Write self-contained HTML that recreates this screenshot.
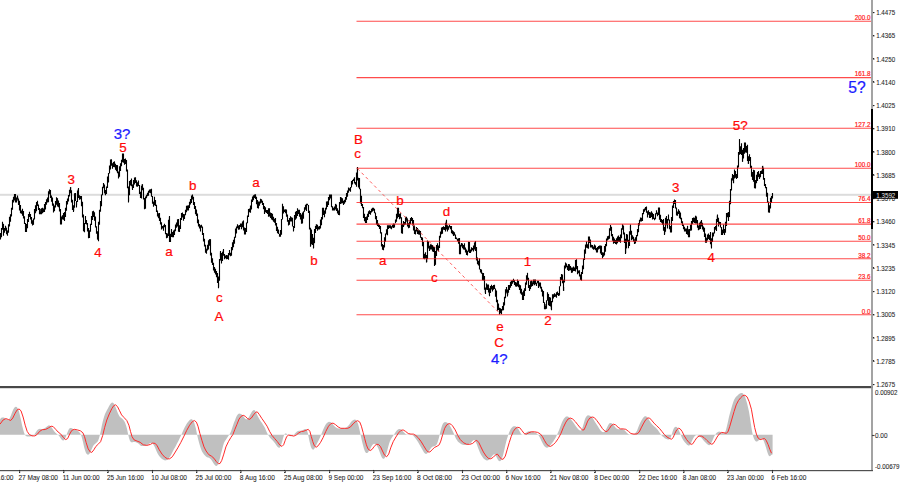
<!DOCTYPE html>
<html><head><meta charset="utf-8"><title>Chart</title>
<style>html,body{margin:0;padding:0;background:#fff;overflow:hidden}body{width:900px;height:485px}</style></head>
<body>
<svg width="900" height="485" viewBox="0 0 900 485" style="display:block;font-family:'Liberation Sans',sans-serif">
<rect width="900" height="485" fill="#fff"/>
<rect x="0" y="193.8" width="871" height="2" fill="#dcdcdc"/>
<path d="M0.5,232.9V239.4M1.5,227.9V237.2M2.5,221.8V229.7M3.5,223.9V235.7M4.5,228.1V232.8M5.5,225.8V230.6M6.5,227.7V234.2M7.5,230.7V235.7M8.5,224.3V232.7M9.5,216.7V226.6M10.5,214.3V221.7M11.5,207.7V216.5M12.5,199.8V209.7M13.5,196.7V202.5M14.5,194.1V200.5M15.5,194.1V202.5M16.5,197.4V202.5M17.5,195.5V199.2M18.5,198.4V204.9M19.5,200.8V210.4M20.5,205.0V213.2M21.5,210.5V213.7M22.5,208.8V215.7M23.5,211.1V218.6M24.5,216.3V224.0M25.5,223.1V231.9M26.5,223.9V231.9M27.5,218.9V228.2M28.5,214.0V222.0M29.5,211.8V216.9M30.5,214.0V219.5M31.5,217.1V223.8M32.5,220.3V225.6M33.5,218.4V224.8M34.5,209.0V219.4M35.5,205.2V213.2M36.5,202.0V211.3M37.5,200.8V206.0M38.5,204.4V209.9M39.5,208.1V214.2M40.5,211.4V214.2M41.5,208.3V214.2M42.5,207.7V213.3M43.5,208.5V212.3M44.5,203.9V212.0M45.5,202.0V209.6M46.5,199.3V204.7M47.5,197.4V202.6M48.5,191.3V202.3M49.5,189.2V193.7M50.5,190.0V198.0M51.5,195.6V201.7M52.5,197.5V205.8M53.5,203.6V212.6M54.5,205.4V211.1M55.5,200.9V207.5M56.5,197.2V204.7M57.5,198.3V206.6M58.5,200.5V207.3M59.5,203.0V211.5M60.5,208.9V224.4M61.5,216.5V224.4M62.5,215.6V219.3M63.5,212.9V219.8M64.5,211.9V221.0M65.5,207.8V217.0M66.5,200.9V210.7M67.5,198.5V204.4M68.5,194.9V201.4M69.5,189.7V196.6M70.5,187.2V193.3M71.5,190.2V202.5M72.5,199.7V210.1M73.5,205.2V212.0M74.5,193.2V207.8M75.5,192.9V201.0M76.5,201.3V207.4M77.5,190.6V201.9M78.5,188.0V197.9M79.5,195.2V199.7M80.5,195.9V199.3M81.5,196.1V206.3M82.5,201.7V217.6M83.5,214.6V231.2M84.5,223.1V232.3M85.5,216.0V223.9M86.5,219.9V224.6M87.5,222.9V231.6M88.5,228.0V238.3M89.5,230.2V238.0M90.5,223.7V231.8M91.5,216.0V225.1M92.5,211.3V219.9M93.5,210.7V216.9M94.5,212.3V220.7M95.5,216.5V227.6M96.5,226.2V233.7M97.5,231.2V239.6M98.5,221.8V241.2M99.5,209.7V224.7M100.5,201.1V211.7M101.5,194.4V206.2M102.5,186.8V195.2M103.5,183.0V187.6M104.5,184.5V193.3M105.5,189.9V195.3M106.5,186.4V194.0M107.5,176.5V188.1M108.5,173.1V182.6M109.5,165.5V173.4M110.5,159.6V169.4M111.5,159.4V165.8M112.5,163.6V168.8M113.5,161.9V166.9M114.5,161.6V167.2M115.5,163.7V169.7M116.5,164.9V171.3M117.5,165.2V173.3M118.5,171.5V178.6M119.5,166.3V176.8M120.5,163.2V171.1M121.5,159.7V166.2M122.5,153.6V162.3M123.5,153.5V162.8M124.5,159.0V164.7M125.5,158.5V164.1M126.5,160.1V171.4M127.5,169.6V188.2M128.5,186.6V202.4M129.5,181.1V195.3M130.5,180.0V185.5M131.5,178.5V186.2M132.5,184.5V190.0M133.5,180.0V187.9M134.5,177.5V184.6M135.5,177.2V183.1M136.5,180.2V186.4M137.5,182.3V186.7M138.5,180.4V186.0M139.5,185.1V194.0M140.5,191.8V197.9M141.5,185.7V198.4M142.5,184.3V190.3M143.5,187.7V199.6M144.5,198.1V209.2M145.5,196.6V208.8M146.5,194.8V198.2M147.5,192.8V196.2M148.5,190.8V195.7M149.5,189.4V192.8M150.5,189.3V193.2M151.5,188.7V196.7M152.5,196.0V203.7M153.5,201.7V206.8M154.5,196.7V205.2M155.5,200.0V206.0M156.5,204.7V212.0M157.5,210.4V216.4M158.5,213.2V218.2M159.5,212.9V221.0M160.5,217.8V224.5M161.5,222.2V229.6M162.5,226.0V228.4M163.5,225.2V230.8M164.5,223.8V227.3M165.5,225.1V234.2M166.5,232.9V238.2M167.5,233.6V237.7M168.5,219.7V236.0M169.5,215.9V241.9M170.5,233.8V242.1M171.5,228.9V237.1M172.5,231.9V237.3M173.5,230.4V237.2M174.5,229.5V234.9M175.5,224.5V231.2M176.5,222.5V227.8M177.5,219.3V226.6M178.5,218.9V231.8M179.5,225.3V231.9M180.5,218.0V229.0M181.5,213.1V220.0M182.5,212.5V217.1M183.5,214.1V220.8M184.5,214.2V219.0M185.5,209.8V215.3M186.5,205.8V212.3M187.5,205.4V210.5M188.5,205.3V210.4M189.5,201.7V208.0M190.5,199.0V204.4M191.5,195.4V203.0M192.5,194.4V199.0M193.5,196.8V204.9M194.5,201.9V208.9M195.5,206.1V214.2M196.5,209.4V216.0M197.5,213.6V223.2M198.5,219.6V226.4M199.5,224.1V228.5M200.5,225.2V231.5M201.5,224.7V227.7M202.5,226.5V235.1M203.5,233.1V241.4M204.5,238.8V246.5M205.5,244.8V252.8M206.5,249.2V253.8M207.5,244.7V250.6M208.5,240.2V249.6M209.5,239.3V245.7M210.5,239.3V255.6M211.5,252.8V262.8M212.5,258.2V264.9M213.5,262.7V270.4M214.5,267.1V272.7M215.5,268.8V274.4M216.5,271.1V277.2M217.5,272.9V283.1M218.5,276.5V288.2M219.5,258.9V280.8M220.5,251.1V260.5M221.5,253.0V263.4M222.5,251.7V261.0M223.5,249.1V255.7M224.5,253.9V259.3M225.5,255.5V258.3M226.5,255.0V259.2M227.5,255.3V259.1M228.5,252.9V259.8M229.5,250.0V255.3M230.5,252.7V256.2M231.5,247.1V255.7M232.5,242.2V250.2M233.5,239.8V247.2M234.5,236.7V243.8M235.5,228.6V237.7M236.5,226.6V233.5M237.5,224.2V228.2M238.5,225.5V229.7M239.5,224.9V229.6M240.5,223.4V227.0M241.5,223.6V229.3M242.5,221.5V227.2M243.5,220.4V230.5M244.5,227.4V234.5M245.5,227.9V234.5M246.5,222.4V232.0M247.5,215.6V223.3M248.5,208.9V217.1M249.5,208.5V212.2M250.5,205.5V212.7M251.5,199.4V209.5M252.5,196.4V202.1M253.5,195.2V200.2M254.5,194.5V197.9M255.5,194.2V198.9M256.5,196.8V204.3M257.5,200.1V208.0M258.5,201.5V208.6M259.5,201.5V205.7M260.5,198.8V203.4M261.5,199.3V202.8M262.5,200.8V205.1M263.5,203.0V209.3M264.5,206.1V214.0M265.5,207.2V212.2M266.5,210.1V213.1M267.5,209.9V213.9M268.5,208.3V216.8M269.5,208.3V216.6M270.5,212.5V218.1M271.5,212.9V219.5M272.5,213.7V220.3M273.5,216.8V221.8M274.5,218.7V222.8M275.5,218.1V225.6M276.5,223.0V230.9M277.5,226.7V233.3M278.5,229.4V234.1M279.5,233.7V236.8M280.5,229.9V236.8M281.5,219.1V234.7M282.5,203.8V219.5M283.5,206.3V213.4M284.5,209.4V212.0M285.5,209.2V213.2M286.5,209.6V216.7M287.5,214.6V221.7M288.5,220.1V225.4M289.5,217.9V224.7M290.5,216.2V221.5M291.5,217.2V221.5M292.5,217.7V226.4M293.5,226.0V231.5M294.5,215.1V228.0M295.5,211.7V219.7M296.5,211.1V218.5M297.5,208.3V215.9M298.5,209.8V214.0M299.5,209.7V216.7M300.5,213.1V219.5M301.5,214.4V223.8M302.5,212.4V223.4M303.5,211.3V218.7M304.5,207.2V211.8M305.5,204.7V209.8M306.5,203.7V211.1M307.5,203.7V205.3M308.5,204.9V213.1M309.5,210.7V229.5M310.5,227.8V246.8M311.5,229.6V244.2M312.5,234.0V245.0M313.5,237.8V248.4M314.5,229.0V243.2M315.5,226.0V232.9M316.5,224.5V229.0M317.5,224.8V230.8M318.5,226.6V229.5M319.5,226.0V229.4M320.5,219.6V228.4M321.5,217.1V225.2M322.5,207.7V219.6M323.5,207.7V215.1M324.5,210.5V217.3M325.5,207.7V213.8M326.5,201.6V209.5M327.5,201.3V207.0M328.5,197.1V205.0M329.5,194.6V200.2M330.5,194.6V198.5M331.5,194.6V207.2M332.5,206.3V210.6M333.5,207.8V210.6M334.5,206.5V210.6M335.5,204.1V209.5M336.5,204.8V211.1M337.5,208.3V213.6M338.5,210.8V215.1M339.5,201.9V215.2M340.5,196.9V203.9M341.5,197.6V203.4M342.5,198.2V203.3M343.5,200.8V205.0M344.5,199.8V203.8M345.5,196.9V202.3M346.5,193.1V199.7M347.5,190.4V196.7M348.5,187.4V192.7M349.5,188.2V190.8M350.5,186.9V191.7M351.5,181.0V187.6M352.5,180.0V184.5M353.5,178.8V181.1M354.5,177.3V183.6M355.5,182.0V184.8M356.5,172.6V186.8M357.5,167.0V180.6M358.5,177.7V187.5M359.5,178.0V189.3M360.5,188.8V203.5M361.5,195.8V205.9M362.5,203.9V208.2M363.5,207.1V218.1M364.5,213.7V221.3M365.5,217.1V223.1M366.5,216.5V223.1M367.5,213.8V219.9M368.5,211.2V217.1M369.5,210.3V213.9M370.5,211.1V214.7M371.5,208.8V212.4M372.5,207.8V211.6M373.5,207.8V210.7M374.5,208.8V213.2M375.5,212.6V219.3M376.5,216.1V224.4M377.5,219.9V225.9M378.5,223.4V227.0M379.5,225.1V229.1M380.5,226.0V233.6M381.5,232.2V246.6M382.5,243.9V249.7M383.5,245.1V250.3M384.5,237.2V247.6M385.5,233.5V241.7M386.5,229.3V234.4M387.5,225.2V235.2M388.5,225.2V229.0M389.5,225.2V227.9M390.5,225.2V228.4M391.5,226.2V229.3M392.5,224.7V227.6M393.5,223.5V227.9M394.5,223.8V227.6M395.5,219.4V223.3M396.5,213.8V221.7M397.5,207.8V218.5M398.5,207.8V216.9M399.5,213.8V219.3M400.5,213.3V218.5M401.5,217.3V233.3M402.5,224.1V233.7M403.5,221.0V227.1M404.5,222.0V225.2M405.5,216.7V224.4M406.5,216.7V220.6M407.5,218.5V226.4M408.5,223.6V228.2M409.5,220.5V227.8M410.5,218.1V223.9M411.5,217.0V220.9M412.5,218.1V225.6M413.5,220.1V230.5M414.5,225.6V233.9M415.5,229.7V234.6M416.5,226.9V231.6M417.5,228.1V234.0M418.5,229.5V234.6M419.5,230.2V234.7M420.5,231.0V237.7M421.5,237.0V240.1M422.5,237.4V246.2M423.5,242.1V258.8M424.5,254.0V259.2M425.5,252.2V258.6M426.5,255.1V262.5M427.5,240.6V259.1M428.5,241.3V248.6M429.5,246.0V250.9M430.5,244.3V249.5M431.5,244.5V249.6M432.5,244.9V251.5M433.5,246.6V252.0M434.5,247.0V266.1M435.5,250.9V264.8M436.5,245.1V256.1M437.5,243.2V250.6M438.5,245.6V251.6M439.5,235.8V248.1M440.5,231.6V237.8M441.5,227.6V234.3M442.5,227.0V233.7M443.5,226.2V229.8M444.5,227.0V229.9M445.5,222.7V231.6M446.5,219.7V229.6M447.5,225.2V231.6M448.5,226.3V229.8M449.5,224.8V227.4M450.5,225.9V229.2M451.5,226.0V233.2M452.5,230.3V234.3M453.5,231.2V236.0M454.5,232.2V235.6M455.5,234.5V239.0M456.5,237.4V239.2M457.5,238.7V241.2M458.5,238.2V243.7M459.5,238.1V254.2M460.5,244.7V254.3M461.5,243.0V246.5M462.5,243.5V248.2M463.5,245.1V249.6M464.5,243.3V249.8M465.5,247.5V252.4M466.5,249.5V255.0M467.5,250.7V255.4M468.5,241.7V251.8M469.5,241.9V253.0M470.5,249.4V253.1M471.5,247.3V251.4M472.5,247.9V250.2M473.5,245.6V251.5M474.5,242.4V249.5M475.5,240.9V251.0M476.5,246.9V260.5M477.5,257.4V264.2M478.5,260.8V265.4M479.5,258.3V269.6M480.5,269.0V272.6M481.5,269.6V273.8M482.5,272.7V280.3M483.5,273.1V280.6M484.5,276.1V289.8M485.5,287.4V294.0M486.5,283.5V289.7M487.5,284.5V290.0M488.5,284.5V292.4M489.5,288.3V296.2M490.5,285.9V293.0M491.5,284.8V289.6M492.5,285.9V291.6M493.5,285.1V289.8M494.5,284.8V289.1M495.5,288.5V296.7M496.5,290.6V302.3M497.5,299.7V310.7M498.5,303.5V309.9M499.5,307.7V314.4M500.5,308.2V313.3M501.5,309.1V314.3M502.5,305.9V310.5M503.5,302.3V310.2M504.5,296.8V305.5M505.5,289.2V298.2M506.5,286.9V292.1M507.5,289.6V296.4M508.5,284.9V292.8M509.5,285.0V290.0M510.5,281.8V287.7M511.5,280.6V286.0M512.5,280.3V283.7M513.5,278.7V282.2M514.5,279.9V285.1M515.5,282.0V286.5M516.5,282.6V286.7M517.5,279.6V286.3M518.5,281.1V287.3M519.5,284.5V290.1M520.5,285.2V293.5M521.5,288.7V294.8M522.5,292.2V300.1M523.5,290.5V300.1M524.5,288.3V296.0M525.5,282.6V291.0M526.5,275.3V284.7M527.5,272.9V280.4M528.5,277.7V288.1M529.5,285.1V291.0M530.5,281.3V289.0M531.5,280.5V286.8M532.5,282.7V285.9M533.5,279.6V284.3M534.5,279.6V285.2M535.5,279.6V284.2M536.5,282.7V286.1M537.5,280.7V283.3M538.5,280.7V287.9M539.5,282.5V286.6M540.5,282.5V288.4M541.5,286.7V291.7M542.5,289.4V296.5M543.5,290.9V303.1M544.5,302.2V309.2M545.5,305.7V309.2M546.5,300.3V308.7M547.5,292.3V300.8M548.5,294.0V305.2M549.5,296.9V305.9M550.5,297.6V306.5M551.5,300.9V310.3M552.5,294.3V302.3M553.5,294.3V298.5M554.5,293.3V297.0M555.5,294.3V296.7M556.5,292.2V297.8M557.5,291.5V295.1M558.5,292.9V295.9M559.5,286.2V295.6M560.5,276.9V286.2M561.5,273.9V279.9M562.5,274.4V283.2M563.5,279.7V290.7M564.5,265.4V282.4M565.5,262.6V268.4M566.5,263.6V267.3M567.5,265.8V270.0M568.5,263.9V271.1M569.5,264.3V270.5M570.5,266.0V270.3M571.5,267.4V272.7M572.5,267.5V272.4M573.5,266.5V271.0M574.5,267.5V271.1M575.5,259.9V271.6M576.5,259.2V269.2M577.5,266.0V274.3M578.5,270.5V273.2M579.5,270.3V276.6M580.5,274.6V279.8M581.5,271.9V280.8M582.5,265.5V274.1M583.5,258.5V269.3M584.5,249.4V260.0M585.5,244.4V253.7M586.5,241.5V247.7M587.5,244.3V248.2M588.5,236.6V248.7M589.5,236.5V243.0M590.5,239.6V247.6M591.5,244.7V247.6M592.5,245.0V248.7M593.5,246.4V249.7M594.5,244.4V249.3M595.5,245.5V250.2M596.5,248.0V252.5M597.5,247.0V252.5M598.5,245.9V249.5M599.5,245.5V248.8M600.5,245.5V253.5M601.5,245.7V254.9M602.5,252.3V258.3M603.5,252.4V256.7M604.5,246.0V255.4M605.5,244.0V251.7M606.5,238.5V246.2M607.5,236.3V240.6M608.5,235.8V239.5M609.5,228.3V238.8M610.5,225.1V230.8M611.5,226.7V236.3M612.5,234.0V240.8M613.5,236.7V243.8M614.5,238.6V243.0M615.5,240.0V244.1M616.5,238.2V244.5M617.5,236.4V243.3M618.5,235.6V241.7M619.5,236.9V242.0M620.5,234.6V242.8M621.5,228.2V238.2M622.5,224.2V229.8M623.5,225.6V234.5M624.5,232.5V242.9M625.5,238.8V254.1M626.5,234.1V248.4M627.5,234.4V241.7M628.5,239.8V248.2M629.5,231.2V246.1M630.5,224.6V234.7M631.5,230.7V240.2M632.5,235.2V239.2M633.5,236.7V241.4M634.5,240.6V244.0M635.5,237.3V243.5M636.5,234.9V241.0M637.5,229.1V236.3M638.5,223.0V232.3M639.5,219.8V225.5M640.5,217.4V221.5M641.5,217.8V221.6M642.5,213.1V221.0M643.5,209.3V214.3M644.5,208.6V211.8M645.5,207.0V210.2M646.5,206.4V212.7M647.5,211.3V217.4M648.5,210.2V214.7M649.5,212.0V217.9M650.5,212.5V217.9M651.5,211.3V216.9M652.5,212.7V219.6M653.5,214.1V219.1M654.5,217.8V220.2M655.5,213.3V219.2M656.5,210.2V214.3M657.5,212.4V216.2M658.5,207.6V215.0M659.5,207.6V219.7M660.5,214.8V221.9M661.5,219.1V222.8M662.5,220.1V224.7M663.5,219.1V230.8M664.5,226.9V234.9M665.5,217.8V231.8M666.5,216.0V224.5M667.5,219.1V228.6M668.5,214.4V220.6M669.5,219.4V229.3M670.5,225.9V232.5M671.5,217.0V232.6M672.5,205.5V221.0M673.5,201.1V207.9M674.5,199.6V204.0M675.5,200.1V208.4M676.5,207.5V215.4M677.5,211.6V215.8M678.5,209.3V214.0M679.5,210.7V218.2M680.5,212.4V219.2M681.5,217.8V223.2M682.5,221.3V226.1M683.5,224.4V229.3M684.5,226.7V231.5M685.5,228.6V231.5M686.5,228.4V234.0M687.5,226.1V234.7M688.5,229.2V237.2M689.5,229.1V237.2M690.5,224.7V230.8M691.5,221.1V230.6M692.5,218.1V224.0M693.5,217.6V222.3M694.5,217.7V223.1M695.5,215.9V223.4M696.5,216.6V223.5M697.5,220.1V227.7M698.5,225.4V230.0M699.5,222.8V229.6M700.5,221.4V229.0M701.5,220.0V226.6M702.5,222.8V229.5M703.5,226.6V231.8M704.5,227.8V237.0M705.5,233.4V242.8M706.5,238.3V242.7M707.5,234.6V240.6M708.5,233.6V239.1M709.5,235.0V240.1M710.5,232.1V244.3M711.5,238.3V248.5M712.5,232.4V242.0M713.5,232.5V236.6M714.5,227.1V233.5M715.5,226.1V229.8M716.5,219.0V231.1M717.5,214.4V221.9M718.5,217.7V226.4M719.5,221.8V224.5M720.5,222.0V227.6M721.5,226.9V234.9M722.5,229.8V234.9M723.5,224.5V233.3M724.5,229.1V234.9M725.5,221.7V232.7M726.5,213.0V226.1M727.5,212.7V217.2M728.5,212.1V220.9M729.5,200.7V217.0M730.5,189.0V204.3M731.5,178.2V190.4M732.5,173.9V180.3M733.5,175.1V183.0M734.5,169.6V178.5M735.5,171.0V177.7M736.5,174.0V178.9M737.5,165.4V177.9M738.5,151.9V167.5M739.5,139.3V154.7M740.5,146.3V154.0M741.5,143.2V155.1M742.5,149.7V161.8M743.5,147.9V158.4M744.5,142.4V153.7M745.5,142.5V152.4M746.5,146.1V152.7M747.5,144.7V161.0M748.5,156.2V163.8M749.5,154.2V160.9M750.5,157.1V168.1M751.5,165.7V176.8M752.5,172.0V179.9M753.5,169.8V181.7M754.5,170.2V188.3M755.5,179.9V188.5M756.5,174.7V183.3M757.5,171.9V181.1M758.5,171.0V176.4M759.5,174.2V179.1M760.5,170.9V177.2M761.5,170.5V174.0M762.5,166.1V174.1M763.5,167.8V179.8M764.5,177.9V186.0M765.5,184.1V188.3M766.5,187.1V196.8M767.5,192.8V202.9M768.5,201.4V212.4M769.5,205.2V212.8M770.5,197.7V208.5M771.5,195.9V203.0M772.5,193.0V198.6" fill="none" stroke="#000" stroke-width="1.12"/>
<path d="M2.7,223.0V227.0M4.0,232.0V228.0M5.7,226.6V230.6M7.5,234.5V230.5M14.7,195.3V199.3M15.9,201.7V197.7M17.7,196.7V200.7M26.0,230.7V226.7M29.5,212.6V216.6M33.3,224.4V220.4M40.4,213.0V209.0M49.4,190.4V194.4M54.0,211.4V207.4M57.0,198.0V202.0M60.8,223.2V219.2M62.4,215.3V219.3M64.2,219.8V215.8M70.7,187.0V191.0M73.7,210.8V206.8M74.8,193.8V197.8M76.6,205.0V201.0M78.2,189.2V193.2M83.9,231.2V227.2M88.9,238.0V234.0M93.6,211.4V215.4M98.2,240.0V236.0M103.6,184.2V188.2M105.2,194.4V190.4M111.3,159.3V163.3M112.7,167.2V163.2M114.3,161.5V165.5M115.9,169.5V165.5M117.2,165.0V169.0M118.8,177.4V173.4M123.1,154.7V158.7M128.6,201.2V197.2M131.3,180.8V184.8M132.4,188.8V184.8M141.0,196.7V192.7M142.2,184.2V188.2M144.9,208.0V204.0M153.5,205.8V201.8M155.1,201.2V205.2M169.4,217.1V221.1M170.0,240.9V236.9M178.0,220.5V224.5M179.4,230.7V226.7M182.3,213.7V217.7M183.9,218.2V214.2M192.5,195.6V199.6M206.3,252.6V248.6M210.0,239.0V243.0M218.6,287.0V283.0M220.4,252.6V256.6M221.8,260.5V256.5M223.3,250.3V254.3M243.3,220.8V224.8M244.7,233.3V229.3M258.0,208.3V204.3M282.5,205.0V209.0M288.9,224.2V220.2M293.6,230.3V226.3M301.8,223.0V219.0M310.7,245.7V241.7M312.0,234.4V238.4M313.6,248.0V244.0M316.3,224.2V228.2M323.1,208.3V212.3M324.5,216.2V212.2M335.8,203.8V207.8M339.0,214.0V210.0M357.4,168.2V172.2M366.2,221.9V217.9M382.8,249.1V245.1M398.0,209.0V213.0M402.0,233.2V229.2M406.8,217.9V221.9M408.4,227.0V223.0M423.8,257.6V253.6M425.4,253.1V257.1M426.8,262.2V258.2M427.9,241.7V245.7M429.5,249.7V245.7M431.1,245.1V249.1M434.9,265.1V261.1M446.3,220.9V224.9M460.1,253.1V249.1M468.9,242.9V246.9M475.3,241.7V245.7M485.3,292.8V288.8M486.6,283.7V287.7M489.4,295.0V291.0M506.4,289.4V293.4M507.7,295.0V291.0M517.9,280.8V284.8M522.9,298.9V294.9M527.5,272.8V276.8M529.7,289.8V285.8M531.1,280.8V284.8M532.7,285.3V281.3M545.1,308.0V304.0M547.6,293.2V297.2M551.3,309.1V305.1M561.7,275.1V279.1M563.7,291.0V287.0M571.7,272.8V268.8M576.4,260.4V264.4M580.7,279.6V275.6M589.4,237.7V241.7M610.5,226.3V230.3M618.4,237.1V241.1M620.0,241.6V237.6M622.5,224.6V228.6M625.7,253.0V249.0M626.8,237.1V241.1M630.4,225.8V229.8M634.7,242.8V238.8M650.1,216.7V212.7M659.2,208.8V212.8M664.7,233.7V229.7M665.8,219.0V223.0M667.2,225.8V221.8M668.5,215.6V219.6M671.0,231.4V227.4M687.6,225.8V229.8M688.9,236.0V232.0M695.7,215.6V219.6M698.4,230.3V226.3M706.4,241.6V237.6M710.2,234.8V238.8M711.4,247.3V243.3M717.3,215.6V219.6M722.3,233.7V229.7M728.8,217.3V213.3M732.4,176.5V180.5M733.6,183.3V179.3M734.7,170.8V174.8M739.5,139.1V143.1M740.4,151.5V147.5M741.5,144.7V148.7M742.6,161.7V157.7M744.9,143.6V147.6M746.0,151.5V147.5M747.2,145.9V149.9M748.3,164.0V160.0M749.4,156.1V160.1M752.8,179.9V175.9M754.0,170.8V174.8M755.1,187.8V183.8M758.5,173.1V177.1M759.6,177.6V173.6M762.8,165.8V169.8M769.4,211.6V207.6" fill="none" stroke="#000" stroke-width="0.9"/>
<line x1="356.5" y1="21.3" x2="871" y2="21.3" stroke="#ff1818" stroke-width="1.05" stroke-opacity="0.78"/>
<line x1="356.5" y1="77.6" x2="871" y2="77.6" stroke="#ff1818" stroke-width="1.05" stroke-opacity="0.78"/>
<line x1="356.5" y1="128.3" x2="871" y2="128.3" stroke="#ff1818" stroke-width="1.05" stroke-opacity="0.78"/>
<line x1="356.5" y1="168.3" x2="871" y2="168.3" stroke="#ff1818" stroke-width="1.05" stroke-opacity="0.78"/>
<line x1="356.5" y1="202.4" x2="871" y2="202.4" stroke="#ff1818" stroke-width="1.05" stroke-opacity="0.78"/>
<line x1="356.5" y1="224.1" x2="871" y2="224.1" stroke="#ff1818" stroke-width="1.05" stroke-opacity="0.78"/>
<line x1="356.5" y1="241.2" x2="871" y2="241.2" stroke="#ff1818" stroke-width="1.05" stroke-opacity="0.78"/>
<line x1="356.5" y1="258.8" x2="871" y2="258.8" stroke="#ff1818" stroke-width="1.05" stroke-opacity="0.78"/>
<line x1="356.5" y1="280.3" x2="871" y2="280.3" stroke="#ff1818" stroke-width="1.05" stroke-opacity="0.78"/>
<line x1="356.5" y1="314.8" x2="871" y2="314.8" stroke="#ff1818" stroke-width="1.05" stroke-opacity="0.78"/>
<line x1="357.4" y1="168.5" x2="499.8" y2="313.5" stroke="#ff4a4a" stroke-width="0.9" stroke-dasharray="3,3"/>
<path d="M0,434.8 L0.0,419.5 L1.0,417.9 L2.0,417.5 L3.0,417.4 L4.0,417.6 L5.0,418.3 L6.0,419.0 L7.0,419.7 L8.0,420.0 L9.0,419.4 L10.0,417.5 L11.0,415.2 L12.0,412.4 L13.0,410.1 L14.0,408.2 L15.0,407.0 L16.0,406.8 L17.0,407.2 L18.0,409.1 L19.0,411.4 L20.0,415.8 L21.0,419.9 L22.0,424.9 L23.0,429.1 L24.0,432.5 L25.0,435.0 L26.0,436.0 L27.0,436.6 L28.0,436.5 L29.0,436.6 L30.0,436.6 L31.0,436.3 L32.0,436.1 L33.0,435.7 L34.0,434.7 L35.0,433.6 L36.0,432.0 L37.0,430.6 L38.0,429.6 L39.0,429.0 L40.0,428.8 L41.0,428.9 L42.0,429.0 L43.0,429.1 L44.0,428.6 L45.0,427.9 L46.0,427.2 L47.0,426.5 L48.0,425.7 L49.0,425.3 L50.0,425.7 L51.0,426.4 L52.0,428.0 L53.0,429.5 L54.0,431.0 L55.0,432.2 L56.0,433.3 L57.0,434.0 L58.0,434.7 L59.0,435.7 L60.0,437.2 L61.0,438.7 L62.0,439.9 L63.0,440.6 L64.0,440.3 L65.0,438.9 L66.0,436.6 L67.0,433.5 L68.0,430.9 L69.0,429.0 L70.0,428.0 L71.0,428.1 L72.0,428.3 L73.0,429.0 L74.0,429.4 L75.0,429.9 L76.0,430.3 L77.0,430.6 L78.0,431.0 L79.0,431.9 L80.0,432.9 L81.0,434.7 L82.0,437.9 L83.0,442.1 L84.0,446.7 L85.0,450.3 L86.0,453.1 L87.0,454.2 L88.0,454.8 L89.0,454.3 L90.0,453.1 L91.0,450.8 L92.0,448.6 L93.0,446.3 L94.0,444.7 L95.0,443.9 L96.0,443.1 L97.0,442.3 L98.0,440.9 L99.0,438.3 L100.0,434.4 L101.0,429.8 L102.0,424.8 L103.0,420.5 L104.0,416.9 L105.0,414.1 L106.0,412.1 L107.0,410.1 L108.0,408.2 L109.0,406.2 L110.0,404.5 L111.0,403.2 L112.0,402.4 L113.0,402.7 L114.0,403.8 L115.0,405.8 L116.0,408.2 L117.0,410.9 L118.0,413.4 L119.0,415.6 L120.0,417.0 L121.0,417.8 L122.0,418.6 L123.0,419.5 L124.0,420.7 L125.0,422.5 L126.0,425.3 L127.0,428.8 L128.0,433.7 L129.0,437.9 L130.0,441.1 L131.0,442.0 L132.0,442.6 L133.0,441.9 L134.0,441.9 L135.0,441.9 L136.0,442.3 L137.0,442.7 L138.0,443.2 L139.0,444.1 L140.0,445.1 L141.0,445.9 L142.0,446.1 L143.0,446.1 L144.0,446.0 L145.0,445.8 L146.0,445.4 L147.0,444.9 L148.0,444.5 L149.0,443.8 L150.0,443.2 L151.0,443.0 L152.0,443.4 L153.0,444.1 L154.0,445.6 L155.0,447.5 L156.0,450.0 L157.0,452.3 L158.0,454.2 L159.0,455.7 L160.0,457.0 L161.0,458.0 L162.0,458.9 L163.0,459.6 L164.0,460.0 L165.0,460.4 L166.0,460.3 L167.0,460.0 L168.0,459.2 L169.0,458.0 L170.0,456.8 L171.0,454.9 L172.0,453.0 L173.0,451.0 L174.0,449.1 L175.0,447.4 L176.0,445.6 L177.0,443.6 L178.0,441.7 L179.0,439.7 L180.0,437.5 L181.0,435.4 L182.0,433.2 L183.0,431.0 L184.0,428.8 L185.0,426.7 L186.0,425.0 L187.0,423.3 L188.0,421.9 L189.0,420.8 L190.0,419.8 L191.0,419.3 L192.0,419.3 L193.0,420.4 L194.0,422.1 L195.0,425.2 L196.0,429.1 L197.0,434.2 L198.0,438.8 L199.0,442.6 L200.0,445.9 L201.0,448.9 L202.0,451.6 L203.0,453.1 L204.0,454.5 L205.0,455.4 L206.0,456.5 L207.0,457.3 L208.0,457.5 L209.0,457.8 L210.0,458.4 L211.0,459.4 L212.0,460.7 L213.0,462.4 L214.0,464.0 L215.0,465.2 L216.0,465.9 L217.0,465.7 L218.0,464.4 L219.0,461.5 L220.0,458.1 L221.0,453.8 L222.0,449.9 L223.0,445.9 L224.0,442.8 L225.0,441.0 L226.0,439.5 L227.0,438.1 L228.0,436.5 L229.0,435.0 L230.0,433.5 L231.0,431.6 L232.0,428.5 L233.0,425.5 L234.0,422.6 L235.0,420.2 L236.0,417.6 L237.0,415.4 L238.0,414.3 L239.0,413.6 L240.0,413.7 L241.0,413.9 L242.0,414.8 L243.0,415.8 L244.0,417.3 L245.0,418.5 L246.0,419.2 L247.0,419.3 L248.0,418.4 L249.0,417.0 L250.0,415.1 L251.0,413.2 L252.0,411.6 L253.0,410.5 L254.0,410.0 L255.0,410.4 L256.0,412.3 L257.0,414.5 L258.0,416.7 L259.0,418.6 L260.0,420.2 L261.0,421.7 L262.0,423.1 L263.0,424.7 L264.0,426.3 L265.0,428.1 L266.0,430.4 L267.0,432.7 L268.0,434.7 L269.0,436.3 L270.0,437.7 L271.0,438.7 L272.0,439.8 L273.0,440.8 L274.0,442.0 L275.0,443.2 L276.0,444.7 L277.0,446.2 L278.0,447.3 L279.0,447.7 L280.0,447.4 L281.0,445.3 L282.0,442.3 L283.0,438.3 L284.0,435.2 L285.0,433.4 L286.0,433.5 L287.0,434.1 L288.0,435.0 L289.0,435.5 L290.0,436.0 L291.0,436.2 L292.0,436.1 L293.0,435.4 L294.0,434.6 L295.0,433.5 L296.0,432.5 L297.0,431.6 L298.0,431.1 L299.0,430.8 L300.0,430.8 L301.0,430.8 L302.0,430.6 L303.0,430.1 L304.0,429.6 L305.0,429.0 L306.0,429.0 L307.0,430.6 L308.0,433.7 L309.0,438.9 L310.0,443.4 L311.0,447.2 L312.0,449.1 L313.0,449.8 L314.0,449.3 L315.0,447.5 L316.0,445.7 L317.0,443.4 L318.0,441.6 L319.0,439.6 L320.0,437.4 L321.0,435.1 L322.0,432.5 L323.0,430.0 L324.0,427.7 L325.0,425.8 L326.0,424.1 L327.0,422.9 L328.0,422.2 L329.0,421.7 L330.0,421.9 L331.0,422.3 L332.0,423.5 L333.0,424.5 L334.0,425.7 L335.0,426.7 L336.0,427.6 L337.0,428.1 L338.0,428.5 L339.0,428.6 L340.0,428.4 L341.0,428.2 L342.0,428.0 L343.0,428.0 L344.0,428.0 L345.0,428.0 L346.0,427.7 L347.0,427.0 L348.0,426.1 L349.0,424.9 L350.0,423.5 L351.0,422.1 L352.0,421.1 L353.0,420.3 L354.0,419.7 L355.0,419.6 L356.0,420.1 L357.0,421.5 L358.0,423.7 L359.0,427.5 L360.0,431.9 L361.0,436.8 L362.0,441.2 L363.0,445.3 L364.0,448.9 L365.0,451.5 L366.0,453.1 L367.0,452.9 L368.0,452.5 L369.0,450.8 L370.0,449.4 L371.0,447.3 L372.0,445.6 L373.0,444.3 L374.0,443.7 L375.0,444.0 L376.0,444.6 L377.0,445.9 L378.0,447.7 L379.0,450.2 L380.0,453.1 L381.0,455.7 L382.0,457.7 L383.0,458.7 L384.0,458.7 L385.0,457.5 L386.0,455.0 L387.0,451.6 L388.0,447.4 L389.0,443.9 L390.0,441.1 L391.0,438.9 L392.0,437.4 L393.0,435.9 L394.0,434.4 L395.0,432.9 L396.0,431.4 L397.0,430.3 L398.0,429.5 L399.0,428.9 L400.0,429.1 L401.0,429.4 L402.0,430.5 L403.0,431.5 L404.0,432.5 L405.0,433.5 L406.0,434.2 L407.0,434.4 L408.0,434.4 L409.0,434.3 L410.0,434.2 L411.0,434.3 L412.0,434.7 L413.0,435.5 L414.0,436.5 L415.0,437.8 L416.0,439.1 L417.0,440.5 L418.0,442.1 L419.0,443.7 L420.0,445.5 L421.0,447.3 L422.0,449.1 L423.0,450.8 L424.0,452.4 L425.0,453.4 L426.0,454.0 L427.0,453.5 L428.0,452.6 L429.0,450.9 L430.0,449.4 L431.0,448.0 L432.0,447.1 L433.0,446.6 L434.0,446.2 L435.0,445.9 L436.0,445.2 L437.0,444.0 L438.0,441.1 L439.0,437.5 L440.0,432.9 L441.0,429.0 L442.0,425.7 L443.0,423.6 L444.0,422.6 L445.0,422.0 L446.0,422.2 L447.0,422.4 L448.0,423.4 L449.0,424.3 L450.0,426.0 L451.0,427.7 L452.0,429.7 L453.0,431.7 L454.0,434.1 L455.0,436.6 L456.0,438.7 L457.0,440.3 L458.0,441.7 L459.0,442.5 L460.0,443.3 L461.0,444.0 L462.0,444.5 L463.0,444.8 L464.0,445.0 L465.0,445.1 L466.0,445.0 L467.0,444.9 L468.0,444.5 L469.0,444.1 L470.0,443.5 L471.0,442.7 L472.0,441.5 L473.0,440.5 L474.0,440.0 L475.0,440.6 L476.0,442.5 L477.0,444.8 L478.0,447.8 L479.0,450.3 L480.0,452.7 L481.0,454.7 L482.0,456.3 L483.0,457.7 L484.0,458.9 L485.0,459.6 L486.0,460.3 L487.0,460.6 L488.0,460.3 L489.0,459.7 L490.0,458.5 L491.0,457.5 L492.0,456.2 L493.0,455.1 L494.0,454.3 L495.0,454.4 L496.0,455.9 L497.0,458.0 L498.0,459.9 L499.0,461.1 L500.0,461.3 L501.0,460.4 L502.0,458.2 L503.0,455.4 L504.0,451.2 L505.0,446.8 L506.0,442.5 L507.0,438.8 L508.0,435.7 L509.0,432.8 L510.0,430.4 L511.0,428.5 L512.0,427.4 L513.0,426.5 L514.0,426.2 L515.0,426.2 L516.0,426.5 L517.0,427.3 L518.0,428.5 L519.0,430.3 L520.0,432.1 L521.0,433.7 L522.0,434.8 L523.0,434.9 L524.0,434.6 L525.0,433.7 L526.0,432.8 L527.0,432.0 L528.0,431.6 L529.0,431.3 L530.0,431.3 L531.0,431.5 L532.0,431.7 L533.0,431.9 L534.0,432.2 L535.0,432.5 L536.0,433.0 L537.0,433.7 L538.0,434.6 L539.0,436.0 L540.0,437.7 L541.0,439.9 L542.0,442.1 L543.0,444.1 L544.0,445.7 L545.0,446.8 L546.0,447.5 L547.0,447.7 L548.0,447.4 L549.0,446.6 L550.0,445.5 L551.0,444.4 L552.0,443.1 L553.0,441.9 L554.0,440.3 L555.0,438.7 L556.0,436.9 L557.0,434.8 L558.0,432.6 L559.0,430.2 L560.0,427.4 L561.0,424.7 L562.0,422.3 L563.0,420.3 L564.0,418.6 L565.0,417.5 L566.0,416.5 L567.0,416.5 L568.0,416.6 L569.0,417.5 L570.0,418.3 L571.0,419.5 L572.0,420.8 L573.0,422.1 L574.0,423.6 L575.0,425.1 L576.0,426.5 L577.0,427.8 L578.0,429.0 L579.0,429.9 L580.0,430.6 L581.0,430.6 L582.0,429.4 L583.0,426.0 L584.0,422.5 L585.0,419.0 L586.0,417.0 L587.0,415.8 L588.0,415.3 L589.0,415.5 L590.0,415.7 L591.0,416.4 L592.0,417.1 L593.0,418.6 L594.0,420.3 L595.0,421.9 L596.0,423.5 L597.0,425.0 L598.0,426.6 L599.0,428.2 L600.0,429.7 L601.0,430.9 L602.0,431.7 L603.0,432.3 L604.0,432.1 L605.0,431.3 L606.0,429.4 L607.0,427.5 L608.0,425.4 L609.0,423.8 L610.0,423.1 L611.0,422.9 L612.0,423.4 L613.0,424.3 L614.0,425.5 L615.0,426.9 L616.0,428.1 L617.0,428.8 L618.0,429.2 L619.0,429.3 L620.0,429.0 L621.0,428.9 L622.0,428.9 L623.0,429.2 L624.0,429.7 L625.0,430.8 L626.0,431.8 L627.0,432.9 L628.0,433.8 L629.0,434.5 L630.0,434.4 L631.0,434.4 L632.0,434.3 L633.0,434.1 L634.0,433.9 L635.0,433.5 L636.0,432.3 L637.0,430.8 L638.0,428.1 L639.0,425.6 L640.0,423.2 L641.0,421.2 L642.0,419.4 L643.0,417.9 L644.0,416.7 L645.0,416.3 L646.0,416.3 L647.0,417.0 L648.0,418.2 L649.0,419.9 L650.0,421.6 L651.0,423.0 L652.0,424.3 L653.0,425.3 L654.0,426.2 L655.0,427.1 L656.0,428.1 L657.0,429.1 L658.0,430.3 L659.0,431.8 L660.0,433.2 L661.0,434.6 L662.0,435.9 L663.0,436.8 L664.0,437.6 L665.0,438.4 L666.0,438.8 L667.0,439.3 L668.0,439.6 L669.0,439.6 L670.0,438.7 L671.0,436.8 L672.0,433.4 L673.0,430.3 L674.0,428.1 L675.0,426.9 L676.0,426.7 L677.0,427.3 L678.0,428.6 L679.0,430.7 L680.0,432.9 L681.0,435.6 L682.0,437.9 L683.0,439.7 L684.0,441.3 L685.0,442.5 L686.0,443.6 L687.0,444.7 L688.0,445.3 L689.0,445.7 L690.0,444.8 L691.0,443.3 L692.0,440.8 L693.0,438.8 L694.0,436.9 L695.0,435.8 L696.0,435.3 L697.0,435.1 L698.0,435.6 L699.0,436.0 L700.0,436.8 L701.0,437.6 L702.0,438.5 L703.0,439.8 L704.0,441.0 L705.0,442.1 L706.0,443.1 L707.0,444.1 L708.0,444.8 L709.0,445.3 L710.0,444.9 L711.0,443.8 L712.0,441.5 L713.0,439.3 L714.0,436.8 L715.0,434.9 L716.0,433.4 L717.0,432.4 L718.0,431.9 L719.0,431.5 L720.0,431.7 L721.0,432.3 L722.0,432.8 L723.0,433.2 L724.0,433.2 L725.0,432.2 L726.0,430.1 L727.0,425.7 L728.0,421.4 L729.0,416.8 L730.0,413.1 L731.0,409.4 L732.0,405.9 L733.0,402.8 L734.0,400.0 L735.0,398.3 L736.0,396.8 L737.0,395.9 L738.0,395.0 L739.0,394.1 L740.0,393.4 L741.0,393.0 L742.0,393.1 L743.0,393.5 L744.0,394.9 L745.0,396.6 L746.0,399.7 L747.0,402.9 L748.0,407.2 L749.0,411.7 L750.0,418.0 L751.0,424.8 L752.0,431.0 L753.0,435.8 L754.0,438.7 L755.0,440.6 L756.0,441.5 L757.0,441.4 L758.0,441.1 L759.0,440.1 L760.0,439.4 L761.0,438.7 L762.0,438.7 L763.0,439.6 L764.0,441.5 L765.0,444.5 L766.0,447.6 L767.0,451.0 L768.0,454.0 L769.0,456.0 L770.0,456.2 L771.0,455.2 L772.0,454.4 L772.6,454.4 L772.6,434.8 Z" fill="#c0c0c0"/>
<path d="M0.0,424.2 L3.1,420.0 L5.8,418.6 L8.7,419.6 L10.7,420.5 L12.8,418.0 L14.8,413.9 L16.9,410.2 L19.0,408.9 L21.0,410.8 L23.1,417.0 L25.2,425.2 L27.2,431.4 L29.3,434.5 L32.0,435.9 L35.0,435.9 L37.5,434.1 L39.6,431.4 L42.3,429.7 L45.4,429.5 L48.5,427.9 L51.1,426.2 L53.2,426.6 L55.7,429.3 L58.1,432.0 L60.8,434.1 L63.5,437.6 L65.6,439.6 L67.6,438.6 L69.7,434.1 L71.8,430.4 L74.2,429.3 L77.3,429.9 L80.4,430.8 L82.9,432.8 L84.5,436.5 L86.2,442.7 L88.2,448.9 L90.3,452.0 L91.8,452.4 L93.8,449.9 L95.9,446.4 L98.6,443.8 L100.6,441.7 L102.7,435.5 L104.7,427.3 L106.8,420.0 L109.3,413.9 L111.8,408.7 L113.8,405.6 L115.5,404.8 L117.5,406.6 L119.6,410.8 L121.6,414.9 L124.1,417.6 L126.8,420.5 L128.9,425.2 L130.5,431.4 L132.0,436.5 L134.0,439.8 L137.1,441.1 L140.2,442.3 L143.3,444.8 L146.8,445.4 L150.5,444.4 L152.5,443.1 L155.2,443.4 L157.2,445.8 L159.3,449.9 L162.0,454.1 L164.8,457.2 L167.5,458.8 L169.6,458.8 L172.3,456.8 L174.7,453.0 L177.8,447.9 L180.9,442.3 L184.0,436.1 L186.7,430.4 L189.6,425.2 L192.3,421.7 L194.3,420.5 L196.4,422.1 L198.0,426.2 L199.9,433.5 L202.0,440.7 L204.0,446.9 L206.1,451.0 L208.8,454.7 L211.4,456.1 L213.9,458.2 L216.4,461.7 L218.5,463.8 L220.1,463.4 L221.8,460.3 L223.8,454.1 L225.9,446.9 L228.4,441.7 L230.8,437.6 L232.9,434.5 L234.9,429.3 L237.0,424.2 L239.1,419.0 L241.1,416.3 L243.2,415.3 L245.3,416.3 L247.3,418.4 L249.4,419.4 L251.4,418.0 L253.5,414.9 L255.6,412.4 L257.2,411.8 L259.3,414.5 L261.8,418.4 L264.4,422.1 L267.1,426.2 L269.6,431.4 L272.1,435.5 L274.7,438.6 L277.4,441.7 L279.9,445.2 L282.0,446.4 L283.6,444.8 L285.1,440.7 L286.7,436.5 L288.6,435.1 L291.2,435.5 L293.9,436.1 L296.4,434.9 L298.9,432.8 L301.5,431.4 L303.1,431.4 L305.8,430.4 L308.2,429.3 L309.9,431.4 L311.3,436.5 L312.8,441.7 L314.4,445.8 L316.1,447.3 L318.1,445.8 L320.6,442.3 L323.1,437.6 L325.8,431.4 L328.5,426.2 L330.9,423.6 L333.0,423.1 L335.5,424.6 L338.1,426.9 L340.8,428.3 L344.3,428.3 L347.8,428.3 L350.5,426.9 L353.2,423.8 L355.7,421.5 L357.7,420.7 L359.8,422.1 L361.4,426.2 L363.1,432.4 L364.7,438.6 L366.4,444.8 L368.0,448.9 L370.1,450.6 L372.2,449.3 L374.2,446.4 L376.3,444.4 L378.4,444.4 L380.4,446.4 L382.5,451.0 L384.5,455.1 L386.6,456.8 L388.7,454.1 L390.7,447.9 L393.2,441.7 L395.9,437.0 L398.6,432.8 L401.0,430.4 L403.1,429.9 L405.6,431.4 L408.2,433.5 L410.9,434.1 L413.4,434.1 L415.9,435.5 L418.6,438.2 L421.2,441.7 L423.7,445.8 L426.2,449.9 L428.2,452.0 L429.9,452.0 L432.0,449.9 L434.4,447.5 L437.1,446.2 L439.2,444.8 L440.8,441.1 L442.7,434.5 L444.7,428.3 L446.8,424.8 L448.9,423.6 L450.9,424.2 L452.5,425.8 L455.2,429.9 L457.8,435.5 L460.3,439.6 L463.4,442.7 L466.5,444.2 L469.6,444.4 L472.7,443.4 L475.2,441.1 L476.8,440.3 L478.9,442.7 L480.9,446.9 L483.4,452.0 L486.1,456.1 L488.8,458.6 L490.8,458.8 L493.3,457.2 L495.8,454.7 L497.4,454.1 L499.5,456.8 L501.5,459.2 L503.2,459.2 L505.3,456.1 L507.1,449.9 L509.2,442.7 L511.2,436.5 L513.3,431.4 L515.6,428.3 L517.6,427.3 L519.7,427.7 L521.8,430.4 L524.2,433.5 L526.3,434.1 L528.8,432.8 L531.4,431.8 L534.5,431.8 L537.6,432.4 L540.3,433.9 L542.4,436.5 L544.4,440.3 L546.5,443.8 L548.6,446.0 L550.6,446.4 L553.1,444.8 L555.6,442.3 L558.2,438.6 L560.9,433.5 L563.4,427.3 L565.9,422.1 L568.1,419.0 L570.2,418.0 L572.7,419.0 L575.4,421.7 L577.8,424.8 L580.3,427.9 L582.4,429.9 L584.0,429.9 L585.7,426.2 L587.7,421.1 L589.8,418.0 L592.3,417.0 L594.3,417.6 L596.8,420.5 L599.5,424.2 L602.5,428.7 L605.2,431.4 L607.2,431.4 L609.3,428.7 L611.3,425.6 L613.4,424.2 L615.5,424.8 L618.1,427.3 L620.6,428.9 L623.1,428.9 L625.8,429.3 L628.5,431.4 L630.9,433.5 L634.0,434.1 L637.1,433.9 L639.2,432.0 L641.2,427.9 L643.7,423.1 L645.8,419.6 L647.8,418.0 L649.5,418.0 L651.5,420.1 L654.0,423.1 L656.7,425.8 L659.4,428.3 L661.9,431.4 L664.3,434.5 L667.0,437.0 L669.7,438.6 L671.5,439.2 L673.2,437.6 L674.8,433.5 L676.7,429.9 L678.4,428.3 L680.0,428.7 L682.1,431.4 L684.1,435.5 L686.6,439.6 L689.1,442.7 L691.1,444.4 L692.8,443.8 L694.8,440.7 L696.9,437.6 L699.0,436.1 L701.4,436.1 L704.1,437.6 L706.8,440.3 L709.3,442.7 L711.3,444.2 L713.0,443.8 L715.1,440.7 L717.1,437.0 L719.2,434.1 L721.6,432.4 L724.1,432.8 L726.2,433.3 L728.0,431.8 L729.7,426.6 L731.9,419.0 L734.1,411.4 L736.2,404.9 L738.4,400.6 L740.6,397.8 L742.7,395.8 L744.9,395.2 L747.1,396.9 L749.2,401.7 L751.4,409.2 L753.1,419.0 L754.7,427.6 L756.4,434.1 L758.1,438.0 L760.1,439.6 L762.2,439.1 L764.4,438.5 L766.1,440.2 L768.1,444.5 L769.8,449.3 L771.5,453.2" fill="none" stroke="#ff2a2a" stroke-width="1" stroke-linejoin="round"/>
<rect x="0" y="386" width="873" height="2.2" fill="#484848"/>
<rect x="871.1" y="0" width="1.8" height="471" fill="#9a9a9a"/>
<rect x="871" y="109" width="2" height="120" fill="#000"/>
<rect x="0" y="470" width="873" height="1.2" fill="#505050"/>
<g font-size="7.3" fill="#262626" stroke="#262626" stroke-width="0.08">
<text x="-26.2" y="479.7" textLength="39.6" lengthAdjust="spacingAndGlyphs">12 May 16:00</text>
<rect x="19.1" y="470" width="1" height="3" fill="#505050"/>
<text x="18.4" y="479.7" textLength="39.6" lengthAdjust="spacingAndGlyphs">27 May 08:00</text>
<rect x="63.4" y="470" width="1" height="3" fill="#505050"/>
<text x="62.7" y="479.7" textLength="36.9" lengthAdjust="spacingAndGlyphs">11 Jun 00:00</text>
<rect x="107.7" y="470" width="1" height="3" fill="#505050"/>
<text x="107.0" y="479.7" textLength="36.9" lengthAdjust="spacingAndGlyphs">25 Jun 16:00</text>
<rect x="152.0" y="470" width="1" height="3" fill="#505050"/>
<text x="151.3" y="479.7" textLength="35.7" lengthAdjust="spacingAndGlyphs">10 Jul 08:00</text>
<rect x="196.3" y="470" width="1" height="3" fill="#505050"/>
<text x="195.6" y="479.7" textLength="35.7" lengthAdjust="spacingAndGlyphs">25 Jul 00:00</text>
<rect x="240.5" y="470" width="1" height="3" fill="#505050"/>
<text x="239.8" y="479.7" textLength="35.0" lengthAdjust="spacingAndGlyphs">8 Aug 16:00</text>
<rect x="284.8" y="470" width="1" height="3" fill="#505050"/>
<text x="284.1" y="479.7" textLength="38.6" lengthAdjust="spacingAndGlyphs">25 Aug 08:00</text>
<rect x="329.1" y="470" width="1" height="3" fill="#505050"/>
<text x="328.4" y="479.7" textLength="35.0" lengthAdjust="spacingAndGlyphs">9 Sep 00:00</text>
<rect x="373.4" y="470" width="1" height="3" fill="#505050"/>
<text x="372.7" y="479.7" textLength="38.6" lengthAdjust="spacingAndGlyphs">23 Sep 16:00</text>
<rect x="417.7" y="470" width="1" height="3" fill="#505050"/>
<text x="417.0" y="479.7" textLength="35.0" lengthAdjust="spacingAndGlyphs">8 Oct 08:00</text>
<rect x="462.0" y="470" width="1" height="3" fill="#505050"/>
<text x="461.3" y="479.7" textLength="38.6" lengthAdjust="spacingAndGlyphs">23 Oct 00:00</text>
<rect x="506.3" y="470" width="1" height="3" fill="#505050"/>
<text x="505.6" y="479.7" textLength="35.0" lengthAdjust="spacingAndGlyphs">6 Nov 16:00</text>
<rect x="550.6" y="470" width="1" height="3" fill="#505050"/>
<text x="549.9" y="479.7" textLength="38.6" lengthAdjust="spacingAndGlyphs">21 Nov 08:00</text>
<rect x="594.9" y="470" width="1" height="3" fill="#505050"/>
<text x="594.2" y="479.7" textLength="35.0" lengthAdjust="spacingAndGlyphs">8 Dec 00:00</text>
<rect x="639.2" y="470" width="1" height="3" fill="#505050"/>
<text x="638.5" y="479.7" textLength="38.6" lengthAdjust="spacingAndGlyphs">22 Dec 16:00</text>
<rect x="683.5" y="470" width="1" height="3" fill="#505050"/>
<text x="682.8" y="479.7" textLength="33.3" lengthAdjust="spacingAndGlyphs">8 Jan 08:00</text>
<rect x="727.7" y="470" width="1" height="3" fill="#505050"/>
<text x="727.0" y="479.7" textLength="36.9" lengthAdjust="spacingAndGlyphs">23 Jan 00:00</text>
<rect x="772.0" y="470" width="1" height="3" fill="#505050"/>
<text x="771.3" y="479.7" textLength="35.0" lengthAdjust="spacingAndGlyphs">6 Feb 16:00</text>
<rect x="873" y="12.1" width="1.5" height="1" fill="#444"/>
<text x="876.2" y="15.1" textLength="19" lengthAdjust="spacingAndGlyphs">1.4475</text>
<rect x="873" y="35.4" width="1.5" height="1" fill="#444"/>
<text x="876.2" y="38.4" textLength="19" lengthAdjust="spacingAndGlyphs">1.4365</text>
<rect x="873" y="58.6" width="1.5" height="1" fill="#444"/>
<text x="876.2" y="61.6" textLength="19" lengthAdjust="spacingAndGlyphs">1.4250</text>
<rect x="873" y="81.8" width="1.5" height="1" fill="#444"/>
<text x="876.2" y="84.8" textLength="19" lengthAdjust="spacingAndGlyphs">1.4140</text>
<rect x="873" y="105.1" width="1.5" height="1" fill="#444"/>
<text x="876.2" y="108.1" textLength="19" lengthAdjust="spacingAndGlyphs">1.4025</text>
<rect x="873" y="128.3" width="1.5" height="1" fill="#444"/>
<text x="876.2" y="131.3" textLength="19" lengthAdjust="spacingAndGlyphs">1.3910</text>
<rect x="873" y="151.6" width="1.5" height="1" fill="#444"/>
<text x="876.2" y="154.6" textLength="19" lengthAdjust="spacingAndGlyphs">1.3800</text>
<rect x="873" y="174.8" width="1.5" height="1" fill="#444"/>
<text x="876.2" y="177.8" textLength="19" lengthAdjust="spacingAndGlyphs">1.3685</text>
<rect x="873" y="198.1" width="1.5" height="1" fill="#444"/>
<text x="876.2" y="201.1" textLength="19" lengthAdjust="spacingAndGlyphs">1.3570</text>
<rect x="873" y="221.3" width="1.5" height="1" fill="#444"/>
<text x="876.2" y="224.3" textLength="19" lengthAdjust="spacingAndGlyphs">1.3460</text>
<rect x="873" y="244.6" width="1.5" height="1" fill="#444"/>
<text x="876.2" y="247.6" textLength="19" lengthAdjust="spacingAndGlyphs">1.3345</text>
<rect x="873" y="267.9" width="1.5" height="1" fill="#444"/>
<text x="876.2" y="270.9" textLength="19" lengthAdjust="spacingAndGlyphs">1.3235</text>
<rect x="873" y="291.1" width="1.5" height="1" fill="#444"/>
<text x="876.2" y="294.1" textLength="19" lengthAdjust="spacingAndGlyphs">1.3120</text>
<rect x="873" y="314.4" width="1.5" height="1" fill="#444"/>
<text x="876.2" y="317.4" textLength="19" lengthAdjust="spacingAndGlyphs">1.3005</text>
<rect x="873" y="337.6" width="1.5" height="1" fill="#444"/>
<text x="876.2" y="340.6" textLength="19" lengthAdjust="spacingAndGlyphs">1.2895</text>
<rect x="873" y="360.9" width="1.5" height="1" fill="#444"/>
<text x="876.2" y="363.9" textLength="19" lengthAdjust="spacingAndGlyphs">1.2785</text>
<rect x="873" y="384.1" width="1.5" height="1" fill="#444"/>
<text x="876.2" y="387.1" textLength="19" lengthAdjust="spacingAndGlyphs">1.2675</text>
<text x="875" y="395.1" textLength="22.5" lengthAdjust="spacingAndGlyphs">0.00902</text>
<text x="875" y="438.4" textLength="12.5" lengthAdjust="spacingAndGlyphs">0.00</text>
<text x="875" y="468.7" textLength="24.5" lengthAdjust="spacingAndGlyphs">-0.00679</text>
<rect x="872" y="435" width="2.5" height="1" fill="#444"/>
</g>
<rect x="873" y="191" width="25" height="7.8" fill="#000"/>
<text x="876.3" y="197.6" font-size="7.3" fill="#e8e8e8" textLength="19" lengthAdjust="spacingAndGlyphs">1.3592</text>
<g font-size="7.3" fill="#ff1c1c" stroke="#ff1c1c" stroke-width="0.22" text-anchor="end">
<text x="870.6" y="20.0" textLength="15.8" lengthAdjust="spacingAndGlyphs">200.0</text>
<text x="870.6" y="76.3" textLength="15.8" lengthAdjust="spacingAndGlyphs">161.8</text>
<text x="870.6" y="127.0" textLength="15.8" lengthAdjust="spacingAndGlyphs">127.2</text>
<text x="870.6" y="167.0" textLength="15.8" lengthAdjust="spacingAndGlyphs">100.0</text>
<text x="870.6" y="201.1" textLength="12.3" lengthAdjust="spacingAndGlyphs">76.4</text>
<text x="870.6" y="222.8" textLength="12.3" lengthAdjust="spacingAndGlyphs">61.8</text>
<text x="870.6" y="239.9" textLength="12.3" lengthAdjust="spacingAndGlyphs">50.0</text>
<text x="870.6" y="257.5" textLength="12.3" lengthAdjust="spacingAndGlyphs">38.2</text>
<text x="870.6" y="279.0" textLength="12.3" lengthAdjust="spacingAndGlyphs">23.6</text>
<text x="870.6" y="313.5" textLength="8.9" lengthAdjust="spacingAndGlyphs">0.0</text>
</g>
<text x="71.3" y="184.4" fill="#ff0808" stroke="#ff0808" stroke-width="0.22" font-size="13.4" text-anchor="middle">3</text>
<text x="98.1" y="257.4" fill="#ff0808" stroke="#ff0808" stroke-width="0.22" font-size="13.4" text-anchor="middle">4</text>
<text x="122" y="138.5" fill="#1c1cff" stroke="#1c1cff" stroke-width="0.22" font-size="15" text-anchor="middle">3?</text>
<text x="123" y="152.3" fill="#ff0808" stroke="#ff0808" stroke-width="0.22" font-size="13.4" text-anchor="middle">5</text>
<text x="168.9" y="255.6" fill="#ff0808" stroke="#ff0808" stroke-width="0.22" font-size="13.4" text-anchor="middle">a</text>
<text x="192.8" y="189.9" fill="#ff0808" stroke="#ff0808" stroke-width="0.22" font-size="13.4" text-anchor="middle">b</text>
<text x="219.4" y="302.3" fill="#ff0808" stroke="#ff0808" stroke-width="0.22" font-size="13.4" text-anchor="middle">c</text>
<text x="219" y="321.1" fill="#ff0808" stroke="#ff0808" stroke-width="0.22" font-size="13.4" text-anchor="middle">A</text>
<text x="256" y="186.6" fill="#ff0808" stroke="#ff0808" stroke-width="0.22" font-size="13.4" text-anchor="middle">a</text>
<text x="314" y="264.6" fill="#ff0808" stroke="#ff0808" stroke-width="0.22" font-size="13.4" text-anchor="middle">b</text>
<text x="358.4" y="143.8" fill="#ff0808" stroke="#ff0808" stroke-width="0.22" font-size="13.4" text-anchor="middle">B</text>
<text x="357.6" y="157.8" fill="#ff0808" stroke="#ff0808" stroke-width="0.22" font-size="13.4" text-anchor="middle">c</text>
<text x="382.7" y="264.6" fill="#ff0808" stroke="#ff0808" stroke-width="0.22" font-size="13.4" text-anchor="middle">a</text>
<text x="400" y="205.4" fill="#ff0808" stroke="#ff0808" stroke-width="0.22" font-size="13.4" text-anchor="middle">b</text>
<text x="434.3" y="281.9" fill="#ff0808" stroke="#ff0808" stroke-width="0.22" font-size="13.4" text-anchor="middle">c</text>
<text x="446.4" y="215.8" fill="#ff0808" stroke="#ff0808" stroke-width="0.22" font-size="13.4" text-anchor="middle">d</text>
<text x="499.9" y="331" fill="#ff0808" stroke="#ff0808" stroke-width="0.22" font-size="13.4" text-anchor="middle">e</text>
<text x="499" y="346.7" fill="#ff0808" stroke="#ff0808" stroke-width="0.22" font-size="13.4" text-anchor="middle">C</text>
<text x="499.3" y="364" fill="#1c1cff" stroke="#1c1cff" stroke-width="0.22" font-size="15" text-anchor="middle">4?</text>
<text x="527.4" y="265.7" fill="#ff0808" stroke="#ff0808" stroke-width="0.22" font-size="13.4" text-anchor="middle">1</text>
<text x="548" y="324.8" fill="#ff0808" stroke="#ff0808" stroke-width="0.22" font-size="13.4" text-anchor="middle">2</text>
<text x="675.8" y="192.1" fill="#ff0808" stroke="#ff0808" stroke-width="0.22" font-size="13.4" text-anchor="middle">3</text>
<text x="711.3" y="262" fill="#ff0808" stroke="#ff0808" stroke-width="0.22" font-size="13.4" text-anchor="middle">4</text>
<text x="740.3" y="130" fill="#ff0808" stroke="#ff0808" stroke-width="0.22" font-size="13.4" text-anchor="middle">5?</text>
<text x="857" y="93.3" fill="#1c1cff" stroke="#1c1cff" stroke-width="0.22" font-size="15.7" text-anchor="middle">5?</text>
</svg>
</body></html>
